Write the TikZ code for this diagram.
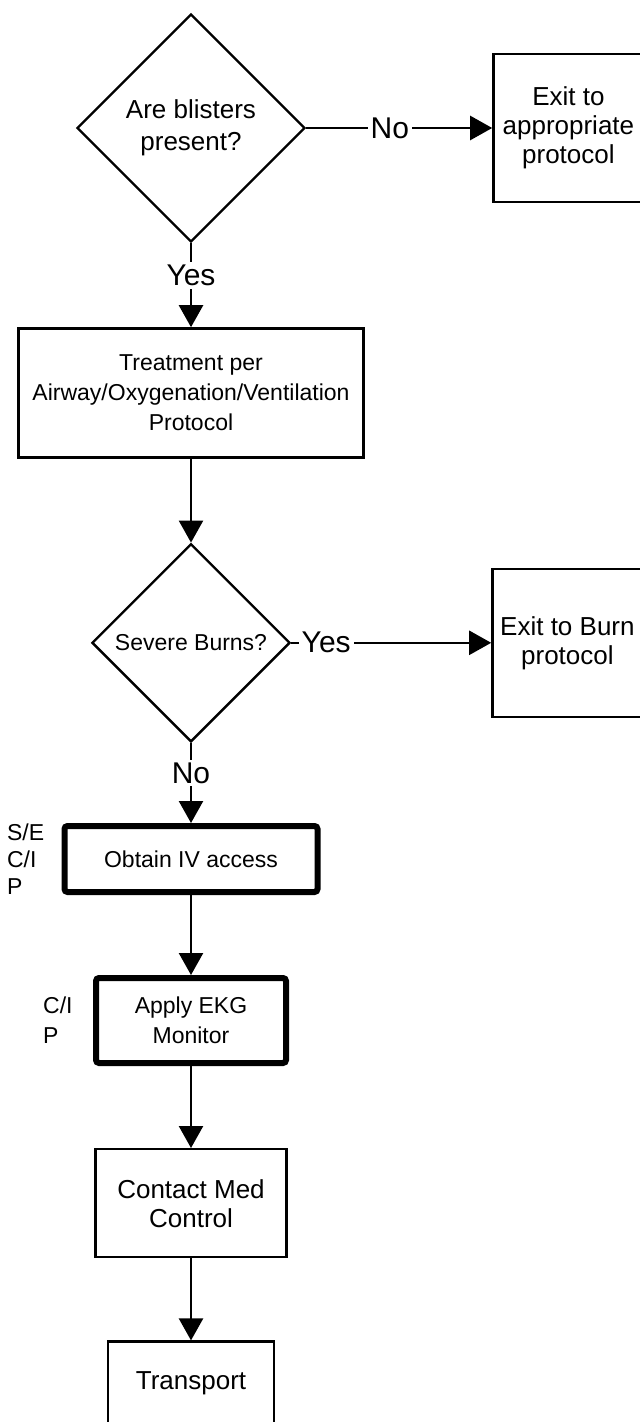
\documentclass[tikz,border=0pt]{standalone}
\usepackage{fontspec}
\setmainfont{Liberation Sans}
\usetikzlibrary{arrows.meta, positioning, shapes.geometric}
\tikzset{
    box/.style={draw, line width=1.2pt, align=center, font=\fontsize{13}{14.5}\selectfont},
    heavy/.style={box, line width=3pt, rounded corners=1.5pt, font=\fontsize{11.5}{15}\selectfont},
    decide/.style={diamond, draw, line width=1.2pt, align=center, inner sep=1pt, aspect=1},
    flow/.style={-{Triangle[length=11pt, width=12pt]}, line width=1.2pt},
    lbl/.style={fill=white, inner sep=1.5pt, font=\fontsize{15}{18}\selectfont},
    role/.style={align=left, inner sep=0pt, font=\fontsize{11.5}{13.5}\selectfont},
}

\begin{document}
\begin{tikzpicture}
    \tikzset{
      node distance=42pt
    }
    \useasboundingbox (0,0) rectangle (320pt,-711pt);

    \node[decide, minimum width=114pt, minimum height=114pt, font=\fontsize{13}{16}\selectfont] (q0) at (95.5pt,-64pt) {Are blisters\\present?};
    \node[box, minimum width=75pt, minimum height=74pt, right=93pt of q0] (x0) {Exit to\\appropriate\\protocol};

    \draw (q0) edge[flow] node[lbl, pos=0.45]{No} (x0);

    \node[box, minimum width=172.5pt, minimum height=64.5pt, font=\fontsize{11.5}{15}\selectfont, below=of q0] (t0) {Treatment per\\Airway/Oxygenation/Ventilation\\Protocol};

    \draw (q0) edge[flow] node[lbl, pos=0.38]{Yes} (t0);

    \node[decide, minimum width=99pt, minimum height=99pt, font=\fontsize{11.5}{14}\selectfont, below=of t0] (q1) {Severe Burns?};
    \node[box, minimum width=75pt, minimum height=74pt, right=100pt of q1] (x1) {Exit to Burn\\protocol};

    \draw (t0) edge[flow] (q1);
    \draw (q1) edge[flow] node[lbl, pos=0.175]{Yes} (x1);

    \node[heavy, minimum width=126.5pt, minimum height=33pt, below=40pt of q1] (s0) {Obtain IV access};
    \node[role, left=8.5pt of s0] (r0) {S/E\\C/I\\P};

    \draw (q1) edge[flow] node[lbl, pos=0.375]{No} (s0);

    \node[heavy, minimum width=95pt, minimum height=42.5pt, below=40pt of s0] (s1) {Apply EKG\\Monitor};
    \node[role, font=\fontsize{11.5}{15}\selectfont, left=10pt of s1] (r1) {C/I\\P};

    \draw (s0) edge[flow] (s1);

    \node[box, minimum width=95.5pt, minimum height=54pt, below=41pt of s1] (s2) {Contact Med\\Control};
    \node[box, minimum width=83pt, minimum height=42pt, below=41pt of s2] (s3) {Transport};

    \draw (s1) edge[flow] (s2);
    \draw (s2) edge[flow] (s3);
\end{tikzpicture}
\end{document}
